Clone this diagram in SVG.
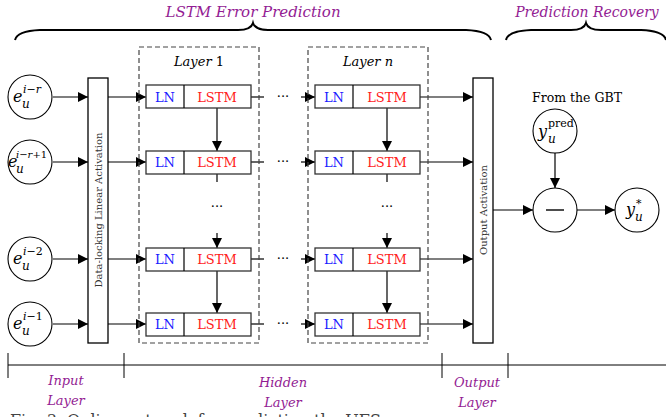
<svg xmlns="http://www.w3.org/2000/svg" width="666" height="417" viewBox="0 0 666 417">
<defs>
<marker id="ah" viewBox="0 0 10 10" refX="10" refY="5" markerWidth="10" markerHeight="10" markerUnits="userSpaceOnUse" orient="auto">
<path d="M0,0 L10,5 L0,10 z" fill="#000"/>
</marker>
<style>
text{font-family:"DejaVu Serif","Liberation Serif",serif;}
.ln{fill:#1a1aff;font-size:13px;text-anchor:middle;}
.ls{fill:#ff1a1a;font-size:13px;text-anchor:middle;}
.box{fill:#fff;stroke:#333;stroke-width:1.3;}
.circ{fill:#fff;stroke:#000;stroke-width:1.1;}
.dash{fill:none;stroke:#444;stroke-width:1.2;stroke-dasharray:5,3;}
.ar{stroke:#000;stroke-width:1.2;fill:none;marker-end:url(#ah);}
.ln0{stroke:#000;stroke-width:1.2;fill:none;}
.pu{fill:#931c93;font-style:italic;font-size:13px;text-anchor:middle;}
.it{font-style:italic;}
.m{font-size:16px;}
.brace{fill:none;stroke:#000;stroke-width:2;}
.dots{font-size:13px;text-anchor:middle;}
</style>
</defs>
<rect width="666" height="417" fill="#fff"/>

<g id="brace1">
<path class="brace" d="M15,40 Q17,31 40,30 L238,30 Q251,30 253,23 Q255,30 268,30 L466,30 Q489,31 491,40"/>
<text class="pu" x="253" y="17" style="font-size:15px">LSTM Error Prediction</text>
</g>
<g id="brace2">
<path class="brace" d="M506,40 Q508,31 531,30 L571,30 Q584,30 586,23 Q588,30 601,30 L641,30 Q664,31 666,40"/>
<text class="pu" x="587" y="17" style="font-size:14px">Prediction Recovery</text>
</g>

<g id="connectors">
<path class="ar" d="M53,97 H88"/>
<path class="ar" d="M53,162 H88"/>
<path class="ar" d="M53,259 H88"/>
<path class="ar" d="M53,324 H88"/>
<path class="ar" d="M108,97 H146"/>
<path class="ar" d="M108,162 H146"/>
<path class="ar" d="M108,259 H146"/>
<path class="ar" d="M108,324 H146"/>
<path class="ar" d="M217,108 V151"/>
<path class="ln0" d="M217,174 V182"/>
<path class="ar" d="M217,233 V248"/>
<path class="ar" d="M217,271 V313"/>
<path class="ar" d="M387,108 V151"/>
<path class="ln0" d="M387,174 V182"/>
<path class="ar" d="M387,233 V248"/>
<path class="ar" d="M387,271 V313"/>
<path class="ln0" d="M251,97 H264"/>
<path class="ln0" d="M251,162 H264"/>
<path class="ln0" d="M251,259 H264"/>
<path class="ln0" d="M251,324 H264"/>
<path class="ar" d="M301,97 H315"/>
<path class="ar" d="M301,162 H315"/>
<path class="ar" d="M301,259 H315"/>
<path class="ar" d="M301,324 H315"/>
<path class="ar" d="M420,97 H473"/>
<path class="ar" d="M420,162 H473"/>
<path class="ar" d="M420,259 H473"/>
<path class="ar" d="M420,324 H473"/>
<path class="ar" d="M493,210 H533"/>
<path class="ar" d="M555,153 V188"/>
<path class="ar" d="M577,210 H615"/>
</g>

<g id="dots">
<text class="dots" x="283" y="101">···</text>
<text class="dots" x="283" y="166">···</text>
<text class="dots" x="283" y="263">···</text>
<text class="dots" x="283" y="328">···</text>
<text class="dots" x="217" y="211">···</text>
<text class="dots" x="387" y="211">···</text>
</g>

<g id="in1"><circle class="circ" cx="30" cy="97" r="22"/>
<text x="13" y="102" class="it m">e</text><text x="22" y="108" class="it" font-size="12">u</text><text x="23" y="93" font-size="11"><tspan class="it">i</tspan>−<tspan class="it">r</tspan></text></g>
<g id="in2"><circle class="circ" cx="30" cy="162" r="22"/>
<text x="8" y="167" class="it m">e</text><text x="16" y="173" class="it" font-size="12">u</text><text x="16" y="158" font-size="10"><tspan class="it">i</tspan>−<tspan class="it">r</tspan>+1</text></g>
<g id="in3"><circle class="circ" cx="30" cy="259" r="22"/>
<text x="13" y="264" class="it m">e</text><text x="22" y="270" class="it" font-size="12">u</text><text x="23" y="255" font-size="11"><tspan class="it">i</tspan>−2</text></g>
<g id="in4"><circle class="circ" cx="30" cy="324" r="22"/>
<text x="13" y="329" class="it m">e</text><text x="22" y="335" class="it" font-size="12">u</text><text x="23" y="320" font-size="11"><tspan class="it">i</tspan>−1</text></g>

<g id="dl"><rect class="box" x="88" y="78" width="20" height="265" style="stroke:#000"/>
<text x="98" y="210" transform="rotate(-90 98 210)" text-anchor="middle" dominant-baseline="central" font-size="10" fill="#333">Data-locking Linear Activation</text></g>

<g id="layer1"><rect class="dash" x="139" y="47" width="120" height="296"/>
<text x="199" y="66" text-anchor="middle" font-size="13"><tspan class="it">Layer</tspan> 1</text></g>
<g id="l1r1"><rect class="box" x="146" y="85" width="105" height="23"/><line class="ln0" x1="184" y1="85" x2="184" y2="108"/><text class="ln" x="165" y="102">LN</text><text class="ls" x="217" y="102">LSTM</text></g>
<g id="l1r2"><rect class="box" x="146" y="151" width="105" height="23"/><line class="ln0" x1="184" y1="151" x2="184" y2="174"/><text class="ln" x="165" y="167">LN</text><text class="ls" x="217" y="167">LSTM</text></g>
<g id="l1r3"><rect class="box" x="146" y="248" width="105" height="23"/><line class="ln0" x1="184" y1="248" x2="184" y2="271"/><text class="ln" x="165" y="264">LN</text><text class="ls" x="217" y="264">LSTM</text></g>
<g id="l1r4"><rect class="box" x="146" y="313" width="105" height="23"/><line class="ln0" x1="184" y1="313" x2="184" y2="336"/><text class="ln" x="165" y="329">LN</text><text class="ls" x="217" y="329">LSTM</text></g>

<g id="layern"><rect class="dash" x="308" y="47" width="120" height="296"/>
<text x="368" y="66" text-anchor="middle" font-size="13" class="it">Layer n</text></g>
<g id="lnr1"><rect class="box" x="315" y="85" width="105" height="23"/><line class="ln0" x1="353" y1="85" x2="353" y2="108"/><text class="ln" x="334" y="102">LN</text><text class="ls" x="387" y="102">LSTM</text></g>
<g id="lnr2"><rect class="box" x="315" y="151" width="105" height="23"/><line class="ln0" x1="353" y1="151" x2="353" y2="174"/><text class="ln" x="334" y="167">LN</text><text class="ls" x="387" y="167">LSTM</text></g>
<g id="lnr3"><rect class="box" x="315" y="248" width="105" height="23"/><line class="ln0" x1="353" y1="248" x2="353" y2="271"/><text class="ln" x="334" y="264">LN</text><text class="ls" x="387" y="264">LSTM</text></g>
<g id="lnr4"><rect class="box" x="315" y="313" width="105" height="23"/><line class="ln0" x1="353" y1="313" x2="353" y2="336"/><text class="ln" x="334" y="329">LN</text><text class="ls" x="387" y="329">LSTM</text></g>

<g id="oa"><rect class="box" x="473" y="78" width="20" height="265" style="stroke:#000"/>
<text x="483" y="210" transform="rotate(-90 483 210)" text-anchor="middle" dominant-baseline="central" font-size="10" fill="#333">Output Activation</text></g>

<g id="gbt"><text x="577" y="102" text-anchor="middle" font-size="12.5">From the GBT</text></g>
<g id="ypred"><circle class="circ" cx="555" cy="131" r="22"/>
<text x="538" y="137" class="it m">y</text><text x="548" y="143" class="it" font-size="12">u</text><text x="548" y="127" font-size="11">pred</text></g>
<g id="minus"><circle class="circ" cx="555" cy="210" r="22"/><line x1="546" y1="210" x2="564" y2="210" stroke="#000" stroke-width="1.4"/></g>
<g id="ystar"><circle class="circ" cx="637" cy="210" r="22"/>
<text x="626" y="215" class="it m">y</text><text x="635" y="221" class="it" font-size="12">u</text><text x="636" y="207" font-size="11">*</text></g>

<g id="axis">
<line x1="8" y1="365" x2="666" y2="365" stroke="#000" stroke-width="1"/>
<line x1="8" y1="353" x2="8" y2="378" stroke="#000" stroke-width="1"/>
<line x1="124" y1="353" x2="124" y2="378" stroke="#000" stroke-width="1"/>
<line x1="442" y1="353" x2="442" y2="378" stroke="#000" stroke-width="1"/>
<line x1="508" y1="353" x2="508" y2="378" stroke="#000" stroke-width="1"/>
<text class="pu" x="66" y="385">Input</text>
<text class="pu" x="66" y="405">Layer</text>
<text class="pu" x="283" y="387">Hidden</text>
<text class="pu" x="283" y="407">Layer</text>
<text class="pu" x="477" y="387">Output</text>
<text class="pu" x="477" y="407">Layer</text>
</g>
<text x="10" y="426" font-size="16" fill="#444">Fig. 3.  Online network for prediction the UFS</text>
</svg>
